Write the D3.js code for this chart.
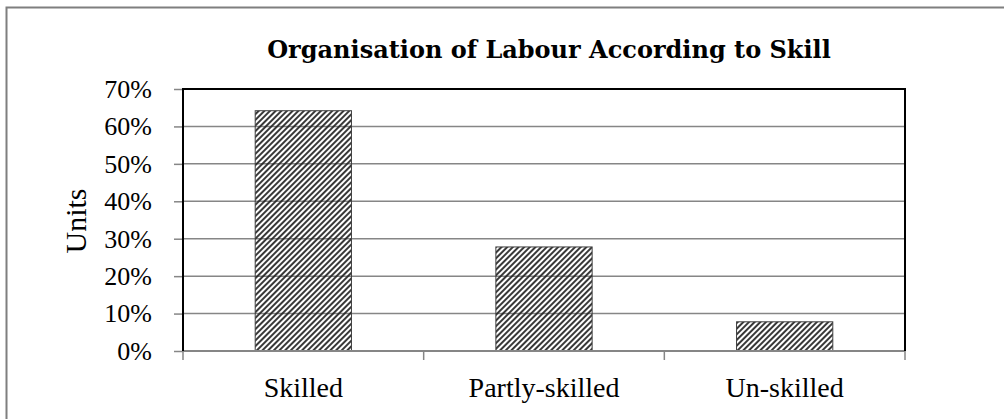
<!DOCTYPE html>
<html>
  <head>
    <meta charset="UTF-8">
    <title>Organisation of Labour According to Skill</title>
    <style>
      body { margin: 0; background: #fff; }
      svg { display: block; }
    </style>
  </head>
  <body>
    <svg></svg>
    <script src="https://d3js.org/d3.v7.min.js"></script>
    <script>

// chart data
var categories = ["Skilled", "Partly-skilled", "Un-skilled"];
var shares = [0.642, 0.278, 0.078];
var yTicks = [0, 0.1, 0.2, 0.3, 0.4, 0.5, 0.6, 0.7];
var chartTitle = "Organisation of Labour According to Skill";
var yTitle = "Units";

var config = {
  "width": 1004,
  "height": 419,
  "margin": { "top": 89, "right": 99, "bottom": 68, "left": 183 }
};

var svg = d3.select("svg")
    .attr("width", config.width)
    .attr("height", config.height);

var margin = config.margin,
    width = config.width - margin.left - margin.right,
    height = config.height - margin.top - margin.bottom;

// hatch fill for the bars
var defs = svg.append("defs");
defs.append("pattern")
    .attr("id", "hatch")
    .attr("patternUnits", "userSpaceOnUse")
    .attr("width", 4)
    .attr("height", 4)
    .attr("patternTransform", "rotate(45)")
  .append("line")
    .attr("x1", 1).attr("y1", 0)
    .attr("x2", 1).attr("y2", 4)
    .attr("stroke", "#222")
    .attr("stroke-width", 1.8);

// outer frame (only the left and top edges show in the picture)
svg.append("rect")
    .attr("x", 6.5)
    .attr("y", 7.5)
    .attr("width", 1010)
    .attr("height", 420)
    .attr("fill", "none")
    .attr("stroke", "#7f7f7f")
    .attr("stroke-width", 2);

var g = svg.append("g")
    .attr("transform", "translate(" + margin.left + "," + margin.top + ")");

var x = d3.scaleBand()
    .domain(categories)
    .range([0, width])
    .paddingInner(0.6)
    .paddingOuter(0.3);

var y = d3.scaleLinear()
    .domain([0, 0.7])
    .range([height, 0]);

// gridlines
g.append("g")
    .selectAll("line")
    .data(yTicks.slice(1, -1))
    .enter().append("line")
      .attr("x1", 0)
      .attr("x2", width)
      .attr("y1", function(d) { return y(d); })
      .attr("y2", function(d) { return y(d); })
      .attr("stroke", "#868686")
      .attr("stroke-width", 1.5);

// bars
g.append("g")
    .selectAll("rect")
    .data(shares)
    .enter().append("rect")
      .attr("x", function(d, i) { return x(categories[i]); })
      .attr("y", function(d) { return y(d); })
      .attr("width", x.bandwidth())
      .attr("height", function(d) { return height - y(d); })
      .attr("fill", "url(#hatch)")
      .attr("stroke", "#404040")
      .attr("stroke-width", 1);

// y axis
var yAxis = g.append("g")
    .call(d3.axisLeft(y).tickValues(yTicks).tickFormat(d3.format(".0%")).tickSize(9).tickPadding(22));
yAxis.select(".domain").remove();
yAxis.selectAll(".tick line")
    .attr("stroke", "#868686")
    .attr("stroke-width", 1.5);
yAxis.selectAll(".tick text")
    .attr("font-family", "'Liberation Serif', 'Times New Roman', serif")
    .attr("font-size", 26)
    .attr("fill", "#000");

// x axis
var xBounds = [0].concat(categories.map(function(c) { return x(c) + x.bandwidth() + x.step() * x.paddingInner() / 2; }));
var xAxis = g.append("g")
    .attr("transform", "translate(0," + height + ")");
xAxis.append("line")
    .attr("x1", 0).attr("x2", width)
    .attr("stroke", "#868686")
    .attr("stroke-width", 2);
xAxis.selectAll(".xtick")
    .data(xBounds)
    .enter().append("line")
      .attr("class", "xtick")
      .attr("x1", function(d) { return d; })
      .attr("x2", function(d) { return d; })
      .attr("y1", 0).attr("y2", 9)
      .attr("stroke", "#868686")
      .attr("stroke-width", 1.5);
xAxis.selectAll("text")
    .data(categories)
    .enter().append("text")
      .attr("x", function(d) { return x(d) + x.bandwidth() / 2; })
      .attr("y", 46)
      .attr("text-anchor", "middle")
      .attr("font-family", "'Liberation Serif', 'Times New Roman', serif")
      .attr("font-size", 28)
      .text(function(d) { return d; });

// plot border: left, top and right in black
g.append("path")
    .attr("d", "M0," + height + "V0H" + width + "V" + height)
    .attr("fill", "none")
    .attr("stroke", "#000")
    .attr("stroke-width", 2);

// title
svg.append("text")
    .attr("x", 549)
    .attr("y", 58)
    .attr("text-anchor", "middle")
    .attr("font-family", "'DejaVu Serif', serif")
    .attr("font-weight", "bold")
    .attr("font-size", 24)
    .text(chartTitle);

// y axis title
svg.append("text")
    .attr("transform", "translate(86,221) rotate(-90)")
    .attr("text-anchor", "middle")
    .attr("font-family", "'Liberation Serif', 'Times New Roman', serif")
    .attr("font-size", 30)
    .text(yTitle);

    </script>
  </body>
</html>
